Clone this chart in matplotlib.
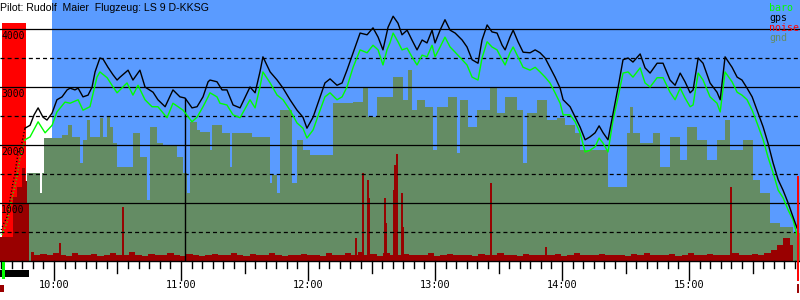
import numpy as np
import matplotlib
matplotlib.use("Agg")
import matplotlib.pyplot as plt
from matplotlib.transforms import blended_transform_factory, offset_copy

# ---------------- data (time in minutes after midnight, altitude in m) ----------------
gps_t = [586.3, 588.7, 590.6, 592.5, 594.8, 596.7, 599.1, 601.4, 603.8, 606.2, 607.6, 609.9, 611.4,
         613.7, 616.1, 618.0, 619.4, 621.7, 623.2, 625.5, 627.9, 629.8, 631.2, 635.0, 637.3, 640.6,
         643.0, 646.8, 649.1, 652.5, 656.2, 659.5, 661.9, 665.2, 667.6, 670.4, 672.8, 673.7, 677.0,
         679.4, 681.7, 684.6, 687.9, 692.6, 695.0, 697.3, 698.7, 702.1, 705.4, 708.2, 711.5, 714.8,
         717.6, 719.5, 722.4, 725.7, 728.0, 730.4, 733.7, 736.1, 738.4, 741.3, 744.6, 747.9, 750.7,
         753.1, 755.4, 757.8, 760.2, 762.5, 764.4, 766.8, 769.1, 771.5, 773.9, 776.2, 778.6, 780.0,
         782.4, 784.7, 787.1, 789.5, 792.8, 795.1, 797.5, 800.3, 802.2, 804.6, 806.9, 809.3, 811.7,
         813.1, 815.4, 816.9, 819.2, 821.6, 824.9, 827.3, 829.6, 832.0, 834.3, 836.7, 839.1, 840.5,
         843.8, 846.2, 848.5, 850.9, 853.2, 855.6, 857.5, 859.4, 861.7, 864.1, 866.5, 868.8, 871.2,
         873.5, 876.9, 879.2, 881.6, 884.9, 887.7, 891.0, 893.4, 895.8, 898.1, 900.5, 901.9, 904.3,
         906.6, 909.9, 913.2, 914.7, 917.0, 920.3, 922.7, 925.0, 927.4, 929.8, 932.1, 935.0, 937.3,
         939.7, 942.1, 944.4, 946.8, 949.1, 951.0]
gps_alt = [2290, 2340, 2520, 2640, 2480, 2430, 2550, 2780, 2830, 2950, 2980, 2950, 2980,
           2830, 2860, 3000, 3260, 3500, 3480, 3340, 3210, 3120, 3170, 3290, 3120, 3290,
           3000, 2910, 2780, 2660, 2950, 2830, 2810, 2640, 2660, 2830, 3090, 3120, 3090,
           2950, 2950, 2690, 2640, 3000, 2900, 3260, 3520, 3260, 3120, 2980, 2780, 2600,
           2480, 2290, 2480, 2830, 3070, 3140, 3030, 3070, 3290, 3590, 3930, 3900, 4020,
           3860, 3640, 4030, 4220, 4100, 3900, 3980, 3810, 3640, 3810, 3760, 3980, 3760,
           3980, 4160, 3980, 3930, 3810, 3690, 3470, 3410, 3810, 4070, 3950, 3930, 3720,
           3640, 3860, 3980, 3780, 3600, 3590, 3640, 3590, 3500, 3340, 3170, 2980, 2780,
           2660, 2480, 2310, 2090, 2140, 2210, 2330, 2210, 2090, 2550, 3000, 3470, 3500,
           3430, 3570, 3330, 3240, 3410, 3410, 3120, 3030, 3240, 3090, 2900, 2950, 3500,
           3410, 3070, 2910, 2780, 3520, 3340, 3170, 3120, 2980, 2830, 2600, 2310, 2030,
           1690, 1400, 1220, 1000, 760, 570]

baro_t = [586.3, 588.7, 592.5, 595.8, 599.1, 601.4, 605.2, 607.6, 611.4, 613.7, 617.0, 620.3, 621.7,
          625.1, 627.4, 629.8, 634.5, 637.3, 639.7, 643.0, 646.3, 649.1, 653.4, 656.2, 661.0, 665.2,
          667.6, 670.4, 672.8, 673.7, 677.0, 678.4, 681.7, 684.6, 687.9, 692.6, 695.0, 697.3, 698.7,
          702.1, 705.4, 708.2, 711.5, 714.8, 717.6, 719.5, 722.4, 725.7, 728.0, 730.4, 733.7, 736.1,
          738.4, 741.3, 744.6, 747.9, 750.7, 753.1, 755.4, 757.3, 758.7, 760.2, 762.5, 764.4, 766.8,
          769.1, 771.5, 773.9, 776.2, 778.6, 780.0, 782.4, 784.7, 787.1, 789.5, 792.8, 795.1, 797.5,
          800.3, 802.2, 804.6, 806.9, 809.3, 811.7, 813.1, 815.4, 816.9, 819.2, 821.6, 824.9, 827.3,
          829.6, 832.0, 834.3, 836.7, 839.1, 840.5, 843.8, 846.2, 848.5, 850.9, 853.2, 855.6, 857.5,
          859.4, 861.7, 864.1, 866.5, 868.8, 871.2, 873.5, 876.9, 879.2, 881.6, 884.9, 887.7, 891.0,
          893.4, 895.8, 898.1, 900.5, 901.9, 904.3, 906.6, 909.9, 913.2, 914.7, 917.0, 920.3, 922.7,
          925.0, 927.4, 929.8, 932.1, 935.0, 937.3, 939.7, 942.1, 944.4, 946.8, 949.1, 951.0]
baro_alt = [2090, 2140, 2400, 2210, 2340, 2570, 2740, 2720, 2780, 2600, 2660, 3170, 3260,
            3160, 3030, 2900, 3070, 2860, 3030, 2780, 2660, 2660, 2470, 2720, 2600, 2400,
            2480, 2660, 2830, 2900, 2830, 2720, 2690, 2520, 2470, 2780, 2640, 3000, 3260,
            3070, 2860, 2780, 2600, 2380, 2290, 2120, 2260, 2600, 2830, 2900, 2780, 2830,
            3000, 3340, 3640, 3590, 3720, 3640, 3380, 3640, 3760, 3930, 3780, 3640, 3670,
            3520, 3380, 3550, 3520, 3720, 3520, 3690, 3860, 3690, 3600, 3470, 3380, 3170,
            3120, 3500, 3780, 3690, 3640, 3470, 3380, 3590, 3690, 3520, 3340, 3290, 3340,
            3260, 3170, 3070, 2900, 2720, 2520, 2520, 2400, 2210, 1880, 1910, 1970, 2120,
            2030, 1880, 2430, 2830, 3240, 3260, 3170, 3330, 3070, 3000, 3160, 3160, 2910,
            2780, 2980, 2810, 2660, 2690, 3240, 3120, 2830, 2720, 2570, 3260, 3090, 2910,
            2860, 2780, 2600, 2380, 2090, 1790, 1520, 1220, 1090, 880, 710, 450]

# aerotow phase (sparse fixes, drawn dotted)
tow_gps_t = [574.5, 575.9, 577.8, 579.2, 580.6, 581.6, 583.0, 584.9, 586.3]
tow_gps_alt = [480, 620, 760, 1050, 1340, 1520, 1860, 2050, 2290]
tow_baro_t = [575.4, 577.8, 579.2, 581.1, 582.5, 584.0, 585.4, 586.3]
tow_baro_alt = [450, 660, 930, 1220, 1450, 1790, 1970, 2090]

# ground elevation below the glider (steps)
gnd_t = [587.3, 593.4, 594.3, 595.3, 603.8, 606.6, 608.5, 612.3, 613.7, 615.6, 617.0, 621.7, 623.2,
         625.1, 626.5, 627.9, 629.8, 637.3, 640.6, 643.9, 645.4, 648.7, 651.5, 658.1, 661.0, 662.8,
         664.3, 667.6, 669.0, 673.7, 674.7, 679.4, 683.2, 684.1, 693.6, 702.1, 703.0, 705.4, 706.8,
         712.5, 714.8, 717.6, 721.0, 731.8, 741.3, 746.0, 748.4, 752.6, 760.2, 764.9, 767.3, 769.1,
         771.5, 775.3, 779.1, 781.0, 786.2, 790.4, 791.8, 795.6, 799.9, 806.0, 809.3, 813.1, 818.7,
         821.6, 823.5, 828.2, 832.9, 837.6, 841.4, 846.2, 848.5, 861.7, 870.7, 872.1, 873.5, 876.9,
         883.0, 886.3, 891.0, 895.8, 899.1, 903.8, 908.5, 913.2, 917.0, 919.4, 925.5, 930.2, 933.5,
         938.3, 943.0, 949.1, 952.4]
gnd_alt = [1520, 1170, 1520, 2120, 2170, 2340, 2140, 1690, 2090, 2430, 2140, 2470, 2140,
           2480, 2310, 2030, 1620, 2210, 1790, 1050, 2310, 2030, 2000, 1790, 1520, 1170,
           2400, 2260, 2220, 1910, 2340, 2210, 1620, 2210, 2140, 1340, 1480, 1170, 2600,
           1340, 2090, 1910, 1830, 2720, 2740, 2980, 2480, 2830, 3170, 2780, 3290, 2600,
           2780, 2660, 1910, 2660, 2830, 1860, 2780, 2310, 2600, 2980, 2550, 2830, 2600,
           1690, 2550, 2780, 2430, 2470, 2340, 2210, 1910, 1280, 2210, 2660, 2210, 2030,
           2210, 1620, 2140, 1740, 2310, 2090, 1740, 2090, 2430, 1910, 2090, 1400, 1170,
           660, 590, 480, 480]

# engine-noise level (every 3 minutes)
noise_t = np.arange(589, 950, 3)
noise_val = [160, 110, 120, 95, 130, 100, 90, 140, 110, 100,
             120, 90, 105, 130, 95, 110, 150, 100, 90, 120,
             100, 95, 130, 110, 90, 120, 100, 85, 110, 125,
             95, 110, 140, 100, 90, 115, 105, 95, 130, 100,
             90, 110, 100, 120, 95, 105, 90, 130, 110, 100,
             140, 110, 150, 100, 120, 90, 130, 110, 100, 120,
             95, 110, 100, 130, 90, 105, 120, 95, 110, 100,
             90, 120, 105, 95, 130, 100, 110, 90, 125, 100,
             95, 110, 100, 120, 90, 105, 130, 95, 110, 100,
             120, 95, 110, 100, 90, 115, 105, 130, 95, 110,
             100, 120, 90, 110, 140, 100, 95, 120, 105, 110,
             100, 130, 95, 110, 120, 100, 130, 190, 270, 400,
             280]
spike_t = [602.8, 632.6, 742.7, 746.0, 748.4, 748.8, 756.4, 756.9, 760.6, 761.1, 762.1, 764.4,
           764.9, 806.5, 832.4, 919.8]
spike_val = [310, 930, 400, 1520, 1400, 1090, 1090, 660, 1220, 1650, 1850, 1170,
             590, 1350, 240, 1280]
tow_noise_t = [574.5, 580.6, 582.5, 584.9, 586.3, 587.3, 588.2]
tow_noise_val = [410, 1100, 1280, 1600, 1380, 1000, 100]

engine_start, engine_end, engine_level = 575.4, 587.0, 4100
sky_start = 599.1
marker_t = 661.9
takeoff_t, release_t, landing_t = 576.2, 588.2, 951.5

hour_ticks = [600, 660, 720, 780, 840, 900]
hour_labels = ["10:00", "11:00", "12:00", "13:00", "14:00", "15:00"]
alt_labels = [1000, 2000, 3000, 4000]
title = "Pilot: Rudolf  Maier  Flugzeug: LS 9 D-KKSG"
legend_names = ["baro", "gps", "noise", "gnd"]

# ---------------- style ----------------
BLUE = "#5a9bff"
GND = "#648c64"
DRED = "#990000"
RED = "#ff0000"
LIME = "#00ff00"
plt.rcParams["lines.scale_dashes"] = False

X0, X1 = 574.5, 952.4
fig = plt.figure(figsize=(8, 3), dpi=100)
fig.patch.set_facecolor("white")
ax = fig.add_axes([0, 39 / 300, 1, 261 / 300])
ax.set_xlim(X0, X1)
ax.set_ylim(0, 4500)
ax.set_facecolor("white")
for s in ["top", "left", "right"]:
    ax.spines[s].set_visible(False)
ax.spines["bottom"].set_linewidth(1.0)
ax.spines["bottom"].set_zorder(20)
ax.set_xticks([])
ax.set_yticks([])

ax.axvspan(sky_start, X1, color=BLUE, zorder=0, lw=0)
ax.fill_between(gnd_t, 0, gnd_alt, step="post", color=GND, lw=0, zorder=1)
ax.fill_between([engine_start, engine_end], 0, engine_level, color=RED, lw=0, zorder=2)
ax.fill_between(tow_noise_t, 0, tow_noise_val, step="post", color=DRED, lw=0, zorder=3)
ax.fill_between(noise_t, 0, noise_val, step="mid", color=DRED, lw=0, zorder=3)
ax.vlines(spike_t, 0, spike_val, color=DRED, lw=1.4, zorder=3)

for v in [1000, 2000, 3000, 4000]:
    ax.axhline(v, color="black", lw=0.9, zorder=5)
for v in [500, 1500, 2500, 3500]:
    ax.axhline(v, color="black", lw=0.9, dashes=(2.9, 2.2), zorder=5)

gps_at_marker = np.interp(marker_t, gps_t, gps_alt)
ax.vlines([marker_t], 0, gps_at_marker, color="black", lw=1.0, zorder=6)

ax.plot(tow_baro_t, tow_baro_alt, color=LIME, lw=1.0, dashes=(0.8, 1.6), zorder=7)
ax.plot(tow_gps_t, tow_gps_alt, color="black", lw=1.0, dashes=(0.8, 1.6), zorder=7)
ax.plot(baro_t, baro_alt, color=LIME, lw=1.0, zorder=8)
ax.plot(gps_t, gps_alt, color="black", lw=1.0, zorder=9)

# y labels inside plot
ytr = offset_copy(ax.transData, fig=fig, x=1, y=-2, units="dots")
for v in alt_labels:
    ax.text(X0, v, str(v), transform=ytr, ha="left", va="top",
            fontsize=7.0, family="DejaVu Sans Mono", color="black", zorder=12)

# x ticks (drawn below the axis)
bt = blended_transform_factory(ax.transData, ax.transAxes)
px = 1 / 261
tick_times = np.arange(575, 953, 5)
for tt in tick_times:
    if tt % 60 == 0:
        L = 19
    elif tt % 30 == 0:
        L = 12
    else:
        L = 7
    ax.plot([tt, tt], [0, -L * px], transform=bt, color="black", lw=1.0, clip_on=False, zorder=20)
for tt, lab in zip(hour_ticks, hour_labels):
    ax.text(tt, -24.5 * px, lab, transform=bt, ha="center", va="center",
            fontsize=7.4, family="DejaVu Sans Mono", color="black", clip_on=False)

# takeoff / tow / landing markers
ax.fill_between([X0, release_t], -16 * px, -9 * px, transform=bt, color="black", lw=0, clip_on=False, zorder=21)
ax.fill_between([takeoff_t - 0.7, takeoff_t + 0.7], -18 * px, -1 * px, transform=bt, color=LIME, lw=0,
                clip_on=False, zorder=22)
ax.fill_between([X0, X0 + 1.9], -31 * px, -24 * px, transform=bt, color=DRED, lw=0, clip_on=False, zorder=21)
ax.plot([landing_t, landing_t], [-19 * px, 84 * px], transform=bt, color=RED, lw=1.4, clip_on=False, zorder=21)
ax.plot([landing_t, landing_t], [-31 * px, -24 * px], transform=bt, color=DRED, lw=1.4, clip_on=False, zorder=21)

# title
fig.text(0.0, 1 - 11 / 300, title, ha="left", va="baseline", fontsize=7.6,
         family="Liberation Sans", color="black", zorder=30)

# legend
leg_colors = [LIME, "black", RED, GND]
for i, (name, c) in enumerate(zip(legend_names, leg_colors)):
    fig.text(769 / 800, 1 - (11 + 10 * i) / 300, name, ha="left", va="baseline",
             fontsize=7.2, family="DejaVu Sans Mono", color=c, zorder=30)

fig.savefig("out.png", dpi=100)
